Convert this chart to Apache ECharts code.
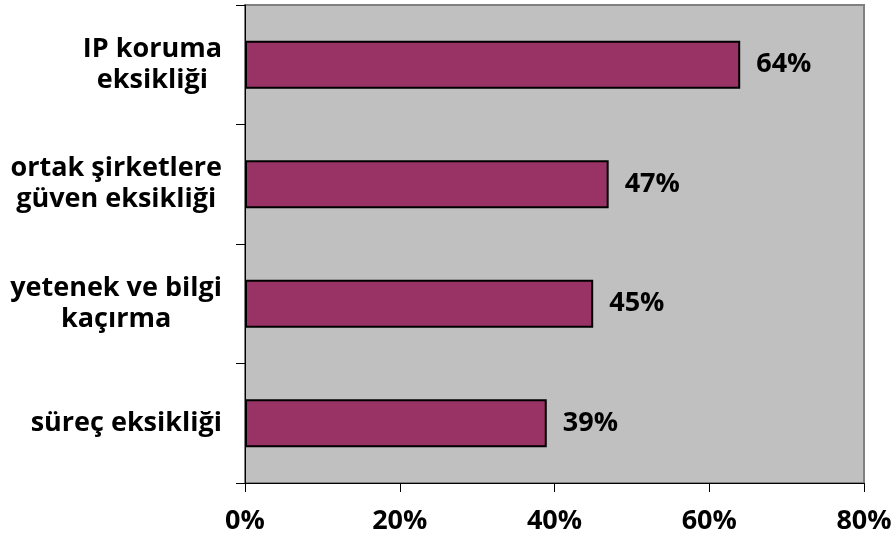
<!DOCTYPE html>
<html>
<head>
<meta charset="utf-8">
<script src="https://cdn.jsdelivr.net/npm/echarts@6/dist/echarts.min.js"></script>
<style>
  html, body { margin: 0; padding: 0; background: #ffffff; }
  #chart { width: 895px; height: 543px; }
</style>
</head>
<body>
<div id="chart"></div>
<script>
// Categories listed top to bottom
const categories = [
  'IP koruma\neksikliği',
  'ortak şirketlere\ngüven eksikliği',
  'yetenek ve bilgi\nkaçırma',
  'süreç eksikliği'
];
// Share of respondents, percent
const values = [64, 47, 45, 39];
// Value axis ticks (percent)
const xTicks = [0, 20, 40, 60, 80];

const FONT = '"Open Sans", "Noto Sans", sans-serif';
const FS = 27;

const chart = echarts.init(document.getElementById('chart'));
chart.setOption({
  animation: false,
  grid: {
    left: 245, right: 31, top: 5, bottom: 60,
    show: true,
    backgroundColor: '#C0C0C0',
    borderColor: '#808080',
    borderWidth: 2
  },
  xAxis: {
    type: 'value',
    min: xTicks[0],
    max: xTicks[xTicks.length - 1],
    interval: xTicks[1] - xTicks[0],
    axisLine: { show: true, lineStyle: { color: '#000000', width: 1 } },
    axisTick: { show: true, length: 9, lineStyle: { color: '#000000' } },
    splitLine: { show: false },
    axisLabel: {
      margin: 25,
      color: '#000000',
      fontFamily: FONT,
      fontWeight: 'bold',
      fontSize: FS,
      formatter: v => v + '%'
    }
  },
  yAxis: {
    type: 'category',
    inverse: true,
    data: categories,
    axisLine: { show: true, lineStyle: { color: '#000000', width: 1 } },
    axisTick: { show: true, length: 9, lineStyle: { color: '#000000' } },
    axisLabel: {
      margin: 23,
      color: '#000000',
      fontFamily: FONT,
      fontWeight: 'bold',
      fontSize: FS,
      lineHeight: 31,
      align: 'right',
      formatter: v => v.split('\n').map(s => '{c|' + s + '}').join('\n'),
      rich: {
        c: {
          align: 'center',
          color: '#000000',
          fontFamily: FONT,
          fontWeight: 'bold',
          fontSize: FS,
          lineHeight: 31
        }
      }
    }
  },
  series: [{
    type: 'bar',
    data: values,
    barWidth: '40%',
    itemStyle: {
      color: '#993366',
      borderColor: '#000000',
      borderWidth: 2
    },
    label: {
      show: true,
      position: 'right',
      distance: 16,
      color: '#000000',
      fontFamily: FONT,
      fontWeight: 'bold',
      fontSize: FS,
      formatter: p => p.value + '%'
    }
  }]
});
</script>
</body>
</html>
